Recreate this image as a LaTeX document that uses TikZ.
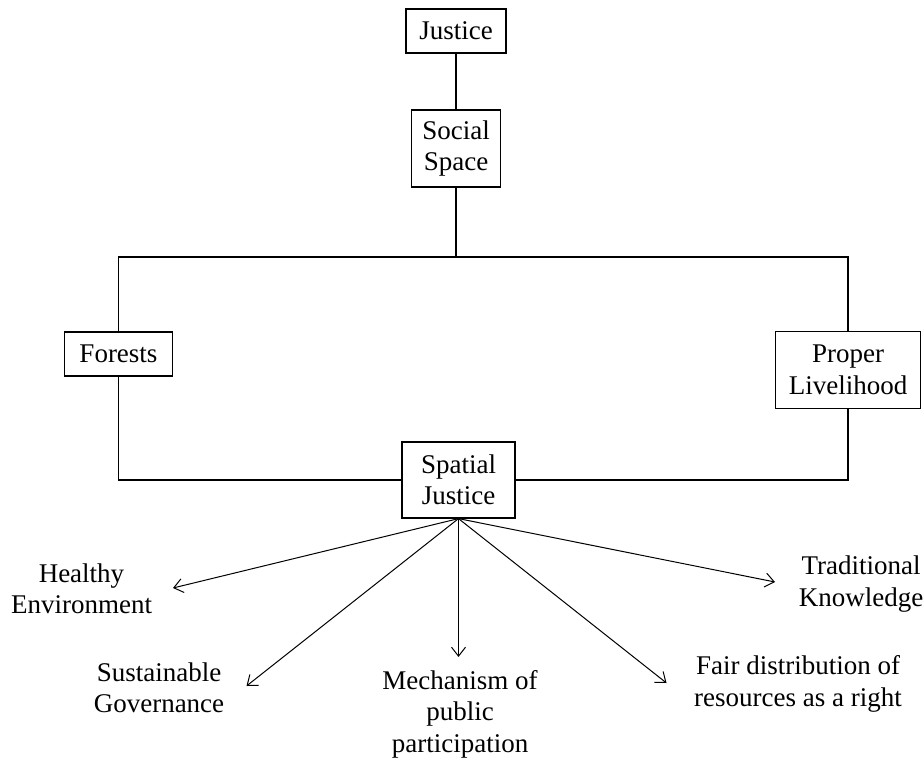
\documentclass[tikz,border=0pt]{standalone}
\usepackage{fontspec}
\setmainfont{Liberation Serif}
\usetikzlibrary{arrows.meta}

\begin{document}
\begin{tikzpicture}[x=1pt, y=-1pt, >={Straight Barb[length=9pt,width=14pt]},
  every node/.style={font=\fontsize{27pt}{31.5pt}\selectfont, align=center},
  box/.style={draw, line width=1.2pt, inner sep=0pt},
  link/.style={line width=1.2pt},
  branch/.style={->, line width=1pt}]

\useasboundingbox (0,0) rectangle (924,760);

\node[box, minimum width=100pt, minimum height=44pt] (justice) at (456,31) {Justice};
\node[box, minimum width=89pt, minimum height=77pt] (social) at (456,148.5) {Social\\Space};
\node[box, minimum width=108pt, minimum height=44pt] (forests) at (118.5,354) {Forests};
\node[box, minimum width=145pt, minimum height=77pt] (livelihood) at (848,370) {Proper\\Livelihood};
\node[box, minimum width=113pt, minimum height=76pt] (spatial) at (458.5,480) {Spatial\\Justice};

\coordinate (topbar) at (456,257);

\draw[link] (justice)--(social);
\draw[link] (social)--(topbar);
\draw[link] (forests.north) |- (topbar) -| (livelihood.north);
\draw[link] (forests.south) |- (spatial.west);
\draw[link] (livelihood.south) |- (spatial.east);

% outcomes
\node (healthy) at (81.5,589) {Healthy\\Environment};
\node (governance) at (159,688) {Sustainable\\Governance};
\node (mechanism) at (460,714) {Mechanism of\\public\\participation};
\node (fair) at (798,684) {Fair distribution of\\resources as a right};
\node (traditional) at (861,584) {Traditional\\Knowledge};

\coordinate (tiphealthy) at (173,588);
\coordinate (tipgovernance) at (246.5,686);
\coordinate (tipmechanism) at (458.5,657);
\coordinate (tipfair) at (666.5,683);
\coordinate (tiptraditional) at (775,582);

\draw[branch] (spatial.south)--(tiphealthy);
\draw[branch] (spatial.south)--(tipgovernance);
\draw[branch] (spatial.south)--(tipmechanism);
\draw[branch] (spatial.south)--(tipfair);
\draw[branch] (spatial.south)--(tiptraditional);

\end{tikzpicture}
\end{document}
